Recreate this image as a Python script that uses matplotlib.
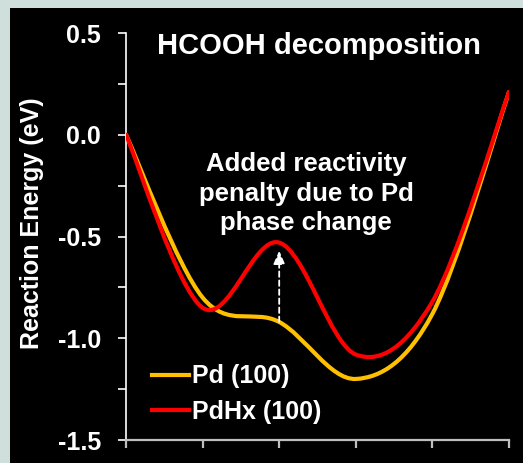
import matplotlib
matplotlib.use("Agg")
import matplotlib.pyplot as plt
from matplotlib.path import Path
from matplotlib.patches import PathPatch, Rectangle
from matplotlib.lines import Line2D
import numpy as np

plt.rcParams['font.family'] = ['Liberation Sans', 'DejaVu Sans']
plt.rcParams['font.weight'] = 'bold'

# Reaction coordinate and energies (eV) for the two surfaces
steps = [0, 1, 2, 3, 4, 5]
pd100 = [0.0, -0.80, -0.92, -1.20, -0.88, 0.21]
pdhx100 = [0.0, -0.85, -0.53, -1.08, -0.82, 0.21]
series_labels = ["Pd (100)", "PdHx (100)"]
series_colors = ["#FFC000", "#FF0000"]

yticks = [-1.5, -1.0, -0.5, 0.0, 0.5]
ytick_labels = ["-1.5", "-1.0", "-0.5", "0.0", "0.5"]
title = "HCOOH decomposition"
note = "Added reactivity\npenalty due to Pd\nphase change"


def smooth_path(xs, ys):
    """Cubic Bezier path through the points (spreadsheet-style smoothed line)."""
    pts = np.column_stack([xs, ys]).astype(float)
    ext = np.vstack([pts[0], pts, pts[-1]])
    verts = [tuple(pts[0])]
    codes = [Path.MOVETO]
    for i in range(len(pts) - 1):
        p0, p1, p2, p3 = ext[i], ext[i + 1], ext[i + 2], ext[i + 3]
        c1 = p1 + (p2 - p0) / 6.0
        c2 = p2 - (p3 - p1) / 6.0
        verts += [tuple(c1), tuple(c2), tuple(p2)]
        codes += [Path.CURVE4] * 3
    return Path(verts, codes)


fig = plt.figure(figsize=(5.23, 4.63), dpi=100)
fig.patch.set_facecolor("#cfe0dc")
fig.patches.append(Rectangle((10 / 523, 0), 1 - 10 / 523, 1 - 8 / 463,
                             transform=fig.transFigure, facecolor="black",
                             edgecolor="none", zorder=-10))

ax = fig.add_axes([126 / 523, 1 - 440 / 463, (509 - 126) / 523, (440 - 33) / 463])
ax.set_zorder(5)
ax.set_facecolor("black")
ax.set_xlim(0, 5)
ax.set_ylim(-1.5, 0.5)

for ys, col in zip([pd100, pdhx100], series_colors):
    ax.add_patch(PathPatch(smooth_path(steps, ys), facecolor="none",
                           edgecolor=col, lw=3.0, capstyle="round",
                           joinstyle="round", zorder=3))

# arrow from the Pd (100) plateau up to the PdHx (100) barrier
ax.annotate("", xy=(2, -0.57), xytext=(2, pd100[2]),
            arrowprops=dict(arrowstyle="-|>,head_length=0.8,head_width=0.35",
                            color="white", lw=1.3, linestyle=(0, (3, 2)),
                            shrinkA=0, shrinkB=0), zorder=4)

ax.set_yticks(yticks)
ax.set_yticklabels(ytick_labels)
ax.set_yticks(np.arange(-1.5, 0.51, 0.25), minor=True)
ax.set_xticks(steps)
ax.set_xticklabels([])

for side in ["top", "right"]:
    ax.spines[side].set_visible(False)
ax.spines["left"].set_color("white")
ax.spines["bottom"].set_color("#bfbfbf")
ax.spines["left"].set_linewidth(1.2)
ax.spines["bottom"].set_linewidth(1.6)
ax.tick_params(axis="y", which="both", direction="out", length=6, width=1.2,
               color="white", labelcolor="white", labelsize=18, pad=12)
ax.tick_params(axis="x", which="both", direction="out", length=6, width=1.6,
               color="#bfbfbf")

ax.set_ylabel("Reaction Energy (eV)", color="white", fontsize=18,
              fontweight="bold")
ax.yaxis.set_label_coords(-0.214, 0.533)

ax.text(0.503, 0.968, title, transform=ax.transAxes, color="white",
        fontsize=21, fontweight="bold", ha="center", va="center")
ax.text(2.35, -0.29, note, color="white", fontsize=18.5, fontweight="bold",
        ha="center", va="center", linespacing=1.3)

handles = [Line2D([], [], color=c, lw=3.0) for c in series_colors]
leg = ax.legend(handles, series_labels, loc="center left",
                bbox_to_anchor=(0.068, 0.113), frameon=False, fontsize=18,
                handlelength=1.48, handletextpad=0.12, labelspacing=0.45,
                borderaxespad=0, borderpad=0)
for t in leg.get_texts():
    t.set_color("white")
    t.set_fontweight("bold")

fig.savefig("out.png", dpi=100, facecolor=fig.get_facecolor())
